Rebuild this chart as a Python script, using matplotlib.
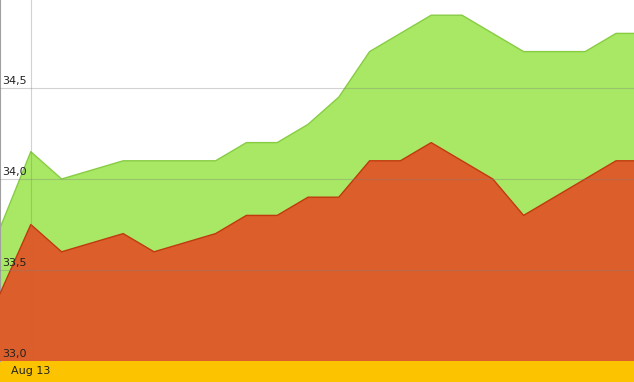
import matplotlib
matplotlib.use('Agg')
import matplotlib.pyplot as plt
import numpy as np

# values, one point per step
high = [33.73, 34.15, 34.0, 34.05, 34.1, 34.1, 34.1, 34.1, 34.2, 34.2, 34.3,
        34.45, 34.7, 34.8, 34.9, 34.9, 34.8, 34.7, 34.7, 34.7, 34.8, 34.8]
low = [33.37, 33.75, 33.6, 33.65, 33.7, 33.6, 33.65, 33.7, 33.8, 33.8, 33.9,
       33.9, 34.1, 34.1, 34.2, 34.1, 34.0, 33.8, 33.9, 34.0, 34.1, 34.1]
ytick_vals = [33.0, 33.5, 34.0, 34.5]
ytick_labels = ['33,0', '33,5', '34,0', '34,5']
date_label = 'Aug 13'
date_pos = 1

W, H = 634, 382
fig = plt.figure(figsize=(W / 100, H / 100), dpi=100)
fig.patch.set_facecolor('#fcc400')

ax = fig.add_axes([0, 21 / H, 1, 361 / H])
ax.set_facecolor('white')

x = np.arange(len(high))
ax.fill_between(x, 33.0, high, color='#a8e864', lw=0, zorder=1)
ax.plot(x, high, color='#88cc44', lw=1, zorder=2)
ax.fill_between(x, 33.0, low, color='#dc5e2a', lw=0, zorder=3)
ax.plot(x, low, color='#c03a10', lw=1, zorder=4)

ax.set_xlim(0, W / 30.8)
ax.set_ylim(33.0, 33.0 + 361 / 182)

# grid drawn over the fills
for v in ytick_vals[1:]:
    ax.axhline(v, color='#808080', lw=0.8, alpha=0.35, zorder=5)
ax.axvline(date_pos, color='#808080', lw=0.8, alpha=0.35, zorder=5)

for v, lab in zip(ytick_vals, ytick_labels):
    ax.text(0.004, v + 0.012, lab, transform=ax.get_yaxis_transform(),
            fontsize=8, color='#222222', ha='left', va='bottom', zorder=6)

ax.set_xticks([])
ax.set_yticks([])
for s in ['top', 'right', 'bottom']:
    ax.spines[s].set_visible(False)
ax.spines['left'].set_color('#a0a0a0')
ax.spines['left'].set_linewidth(1.5)

fig.text(date_pos * 30.8 / W, 10.5 / H, date_label, fontsize=8, color='#222222',
         ha='center', va='center')

fig.savefig('out.png', dpi=100, facecolor=fig.get_facecolor())
